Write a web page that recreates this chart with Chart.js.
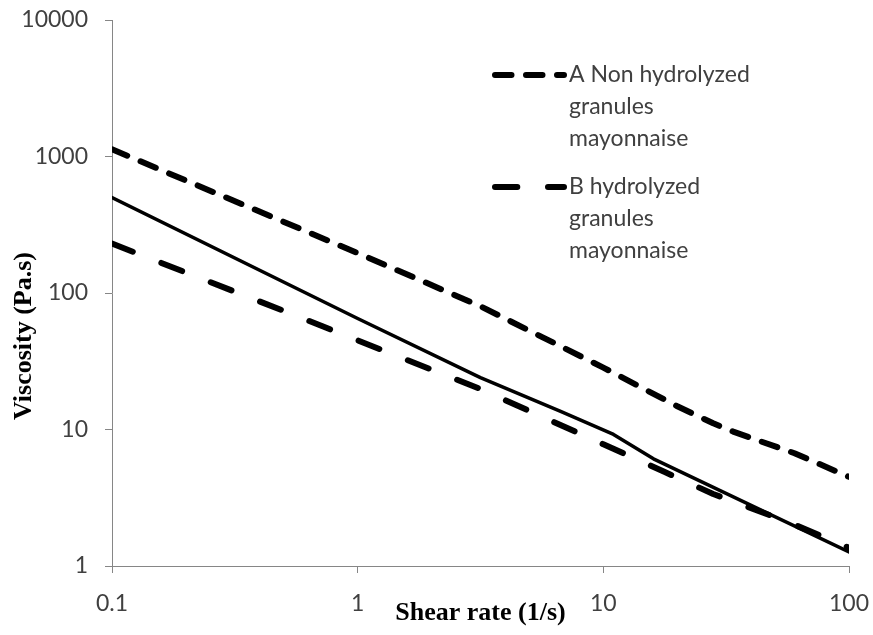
<!DOCTYPE html>
<html>
<head>
<meta charset="utf-8">
<script src="https://cdn.jsdelivr.net/npm/chart.js@4.4.0/dist/chart.umd.min.js"></script>
<style>
  html, body { margin: 0; padding: 0; background: #fff; }
  #wrap { width: 873px; height: 635px; }
</style>
</head>
<body>
<div id="wrap"><canvas id="viscChart"></canvas></div>
<script>
// shear rate (1/s) vs viscosity (Pa.s)
const shearA = [0.1, 1, 3.16, 10, 20, 28, 34, 60, 100];
const viscA = [1130, 196, 80, 28.4, 14.8, 11.1, 9.6, 6.7, 4.5];

const shearB = [0.1, 0.5, 1, 3.16, 10, 17.7, 28, 36, 58, 100];
const viscB = [230, 74, 45, 19.8, 7.8, 4.9, 3.37, 2.85, 2.06, 1.36];

// solid curve, no legend entry
const shearC = [0.1, 1, 3.16, 6.7, 11, 16, 100];
const viscC = [500, 65, 24, 13.6, 9.2, 6.1, 1.27];

const xTicks = [0.1, 1, 10, 100];
const yTicks = [1, 10, 100, 1000, 10000];

const legendA = ["A Non hydrolyzed", "granules", "mayonnaise"];
const legendB = ["B hydrolyzed", "granules", "mayonnaise"];

const tickFont = { family: "Lato", size: 23 };
const axisGrey = "#868686";

function toPoints(xs, ys) {
  return xs.map((x, i) => ({ x: x, y: ys[i] }));
}

// legend box sits inside the plot, plus the off-centre y title
const overlay = {
  id: "overlay",
  afterDraw(chart) {
    const ctx = chart.ctx;
    const ds = chart.data.datasets;
    ctx.save();
    drawKey(ctx, 75, legendA, ds[0]);
    drawKey(ctx, 187, legendB, ds[1]);

    ctx.translate(24, 336);
    ctx.rotate(-Math.PI / 2);
    ctx.font = "bold 26px 'Liberation Serif'";
    ctx.fillStyle = "#000";
    ctx.textAlign = "center";
    ctx.textBaseline = "middle";
    ctx.fillText("Viscosity (Pa.s)", 0, 0);
    ctx.restore();
  }
};

function drawKey(ctx, y, lines, ds) {
  ctx.save();
  ctx.strokeStyle = ds.borderColor;
  ctx.lineWidth = ds.borderWidth;
  ctx.lineCap = "round";
  ctx.setLineDash(ds.borderDash);
  ctx.beginPath();
  ctx.moveTo(495, y);
  ctx.lineTo(564, y);
  ctx.stroke();
  ctx.restore();

  ctx.save();
  ctx.font = "23px Lato";
  ctx.fillStyle = "#404040";
  ctx.textAlign = "left";
  ctx.textBaseline = "middle";
  lines.forEach((t, i) => ctx.fillText(t, 569, y + i * 32));
  ctx.restore();
}

const lineStyle = {
  borderColor: "#000",
  borderCapStyle: "round",
  borderJoinStyle: "round",
  pointRadius: 0,
  fill: false,
  tension: 0
};

new Chart(document.getElementById("viscChart"), {
  type: "line",
  data: {
    datasets: [
      { ...lineStyle, label: legendA.join(" "), data: toPoints(shearA, viscA), borderWidth: 6, borderDash: [16.5, 14.5] },
      { ...lineStyle, label: legendB.join(" "), data: toPoints(shearB, viscB), borderWidth: 6, borderDash: [22.3, 30.7] },
      { ...lineStyle, label: "", data: toPoints(shearC, viscC), borderWidth: 3.5 }
    ]
  },
  options: {
    responsive: true,
    maintainAspectRatio: false,
    animation: false,
    layout: { padding: { top: 20, right: 24, bottom: 0, left: 0 } },
    plugins: {
      legend: { display: false },
      tooltip: { enabled: false }
    },
    scales: {
      x: {
        type: "logarithmic",
        position: "bottom",
        min: 0.1,
        max: 100,
        afterBuildTicks: (scale) => { scale.ticks = xTicks.map(v => ({ value: v })); },
        afterFit: (scale) => {
          scale.height = 69;
          scale.paddingLeft = 0;
          scale.paddingRight = 0;
        },
        grid: { drawOnChartArea: false, drawTicks: true, tickLength: 7, color: axisGrey },
        border: { display: true, color: axisGrey, width: 1 },
        ticks: { font: tickFont, color: "#404040", padding: 17, maxRotation: 0, autoSkip: false, callback: (v) => String(v) },
        title: {
          display: true,
          text: "Shear rate (1/s)",
          color: "#000",
          font: { family: "Liberation Serif", size: 26, weight: "bold" },
          padding: { top: 0, bottom: 6 }
        }
      },
      y: {
        type: "logarithmic",
        min: 1,
        max: 10000,
        afterBuildTicks: (scale) => { scale.ticks = yTicks.map(v => ({ value: v })); },
        afterFit: (scale) => {
          scale.width = 112;
          scale.paddingTop = 0;
          scale.paddingBottom = 0;
        },
        grid: { drawOnChartArea: false, drawTicks: true, tickLength: 7, color: axisGrey },
        border: { display: true, color: axisGrey, width: 1 },
        ticks: { font: tickFont, color: "#404040", padding: 17, autoSkip: false, callback: (v) => String(v) }
      }
    }
  },
  plugins: [overlay]
});
</script>
</body>
</html>
